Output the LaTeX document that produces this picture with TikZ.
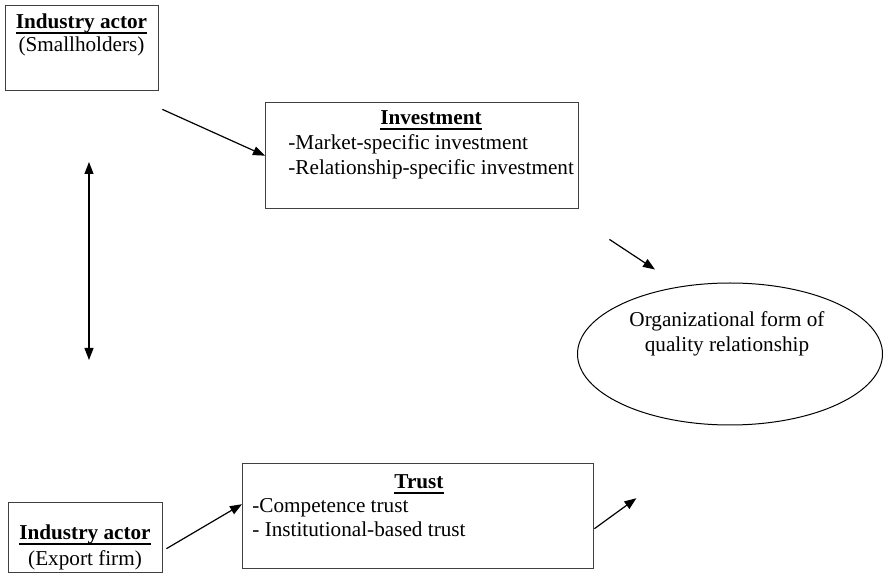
\documentclass[tikz,border=0pt]{standalone}
\usepackage{fontspec}
\setmainfont{Liberation Serif}
\usetikzlibrary{positioning,shapes,arrows.meta}
\newcommand{\ulhead}[1]{\sbox0{\textbf{#1}}\rlap{\usebox0}\rule[-2.7pt]{\wd0}{1.1pt}}
\tikzset{
	box/.style={
		rectangle,
		draw=black!75,
		line width=0.7pt,
		inner sep=0pt,
		anchor=north west
	},
	txt/.style={
		inner sep=0pt,
		font=\fontsize{10.6}{12.5}\selectfont
	},
	arr/.style={
		-{Triangle[length=6pt,width=4.5pt]},
		line width=0.6pt
	},
	dbl/.style={
		{Triangle[length=6pt,width=4.5pt]}-{Triangle[length=6pt,width=4.5pt]},
		line width=0.6pt
	}
}

\begin{document}
\begin{tikzpicture}[x=0.5pt, y=-0.5pt]
	\useasboundingbox (0,0) rectangle (885,577);
	% actors
	\node [box, minimum width=76.5pt, minimum height=42.5pt] (small) at (5,5) {};
	\node [txt, anchor=base] (smallhead) at (81.5,29) {\ulhead{Industry actor}};
	\node [txt, anchor=base] (smallsub) at (81.5,52) {(Smallholders)};
	\node [box, minimum width=77pt, minimum height=35pt] (export) at (8,502) {};
	\node [txt, anchor=base] (exporthead) at (85,540) {\ulhead{Industry actor}};
	\node [txt, anchor=base] (exportsub) at (85,566) {(Export firm)};
	% investment
	\node [box, minimum width=156.5pt, minimum height=53pt] (inv) at (265,102) {};
	\node [txt, anchor=base] (invhead) at (431,125) {\ulhead{Investment}};
	\node [txt, anchor=base west] (invone) at (288,150) {-Market-specific investment};
	\node [txt, anchor=base west] (invtwo) at (288,175) {-Relationship-specific investment};
	% trust
	\node [box, minimum width=175.5pt, minimum height=52.5pt] (trust) at (242,463) {};
	\node [txt, anchor=base] (trusthead) at (419,489) {\ulhead{Trust}};
	\node [txt, anchor=base west] (trustone) at (252,513) {-Competence trust};
	\node [txt, anchor=base west] (trusttwo) at (252,537) {- Institutional-based trust};
	% outcome
	\node [draw, ellipse, line width=0.5pt, minimum width=152.5pt, minimum height=71pt] (org) at (730,354) {};
	\node [txt, anchor=base] (orgone) at (727,327) {Organizational form of};
	\node [txt, anchor=base] (orgtwo) at (727,352) {quality relationship};
	% links
	\coordinate (linktop) at (89,162);
	\coordinate (linkbot) at (89,360);
	\draw [dbl] (linktop) -- (linkbot);
	\draw [arr] ([shift={(3,18)}]small.south east) -- (inv.west);
	\draw [arr] ([shift={(30,30)}]inv.south east) -- ([shift={(-75,-13)}]org.north);
	\draw [arr] ([shift={(3,11)}]export.east) -- ([shift={(0,-12)}]trust.west);
	\draw [arr] ([shift={(0,12.5)}]trust.east) -- ([shift={(42,-18)}]trust.east);
\end{tikzpicture}
\end{document}
